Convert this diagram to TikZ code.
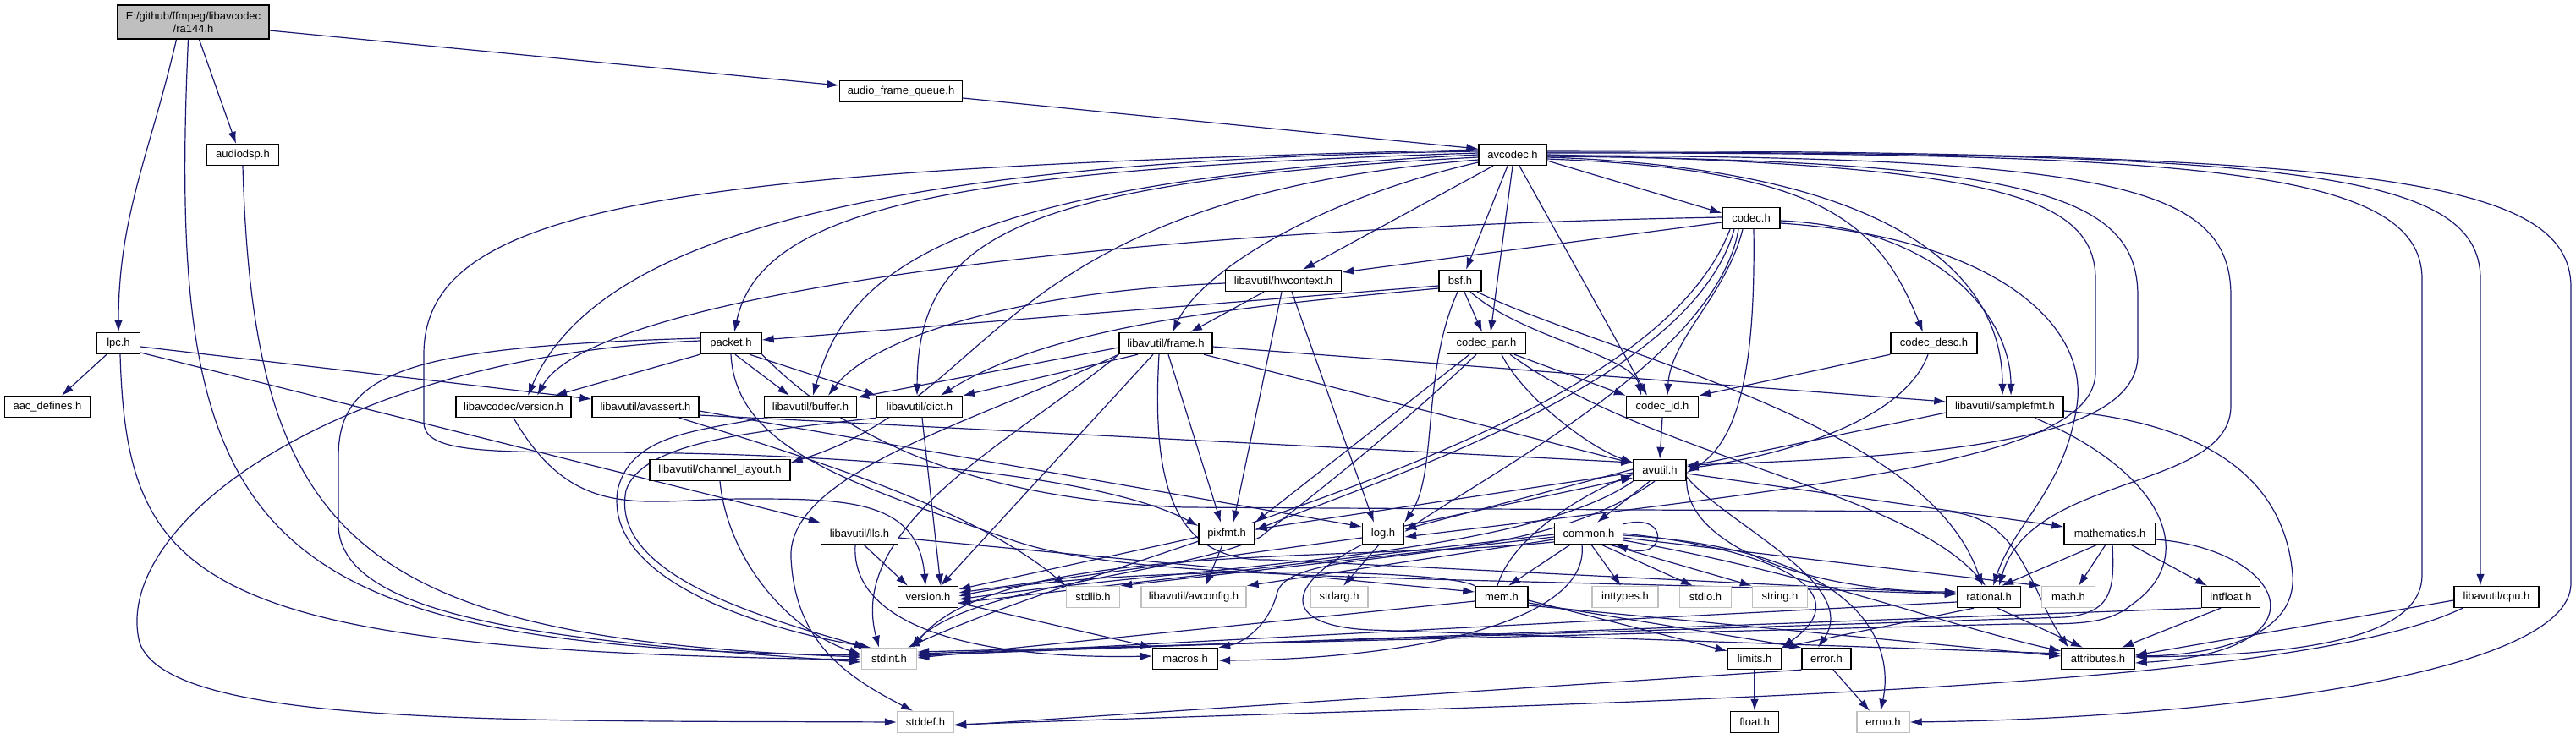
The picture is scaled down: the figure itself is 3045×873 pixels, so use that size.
\documentclass[tikz,border=0pt]{standalone}
\usepackage{fontspec}
\setmainfont{Liberation Sans}
\usetikzlibrary{arrows.meta}
\definecolor{incblue}{RGB}{25,25,112}
\definecolor{boxgray}{RGB}{191,191,191}
\newcommand\hfont{\fontsize{13}{15}\selectfont}
\pgfdeclarelayer{edges}
\pgfsetlayers{edges,main}
\tikzset{
  hdr/.style={draw=black,fill=white,line width=1.4pt,minimum height=25pt,inner sep=0pt,font=\hfont},
  syshdr/.style={hdr,draw=boxgray},
  rootfile/.style={hdr,fill=boxgray,minimum height=40pt,align=center},
  inc/.style={draw=incblue,line width=1.2pt,-{Latex[length=14pt,width=9.5pt]}}
}
\begin{document}
\begin{tikzpicture}[x=1pt,y=-1pt]
  \useasboundingbox(0,0)rectangle(3045,873);
  % files
  \node[rootfile,minimum width=179pt](ra144)at(228.5,26){E:/github/ffmpeg/libavcodec\\/ra144.h};
  \node[hdr,minimum width=145pt](afq)at(1065,108){audio\_frame\_queue.h};
  \node[hdr,minimum width=85pt](audiodsp)at(287,183){audiodsp.h};
  \node[hdr,minimum width=80pt](avcodec)at(1788,183){avcodec.h};
  \node[hdr,minimum width=68pt](codec)at(2070,258){codec.h};
  \node[hdr,minimum width=137pt](hwcontext)at(1517,332){libavutil/hwcontext.h};
  \node[hdr,minimum width=50pt](bsf)at(1726,332){bsf.h};
  \node[hdr,minimum width=51pt](lpc)at(140,406){lpc.h};
  \node[hdr,minimum width=72pt](packet)at(864,406){packet.h};
  \node[hdr,minimum width=110pt](frame)at(1378,406){libavutil/frame.h};
  \node[hdr,minimum width=93pt](codecpar)at(1757,406){codec\_par.h};
  \node[hdr,minimum width=102pt](codecdesc)at(2286,406){codec\_desc.h};
  \node[hdr,minimum width=101pt](aacdef)at(56,481){aac\_defines.h};
  \node[hdr,minimum width=136pt](lavcversion)at(607,481){libavcodec/version.h};
  \node[hdr,minimum width=126pt](avassert)at(763,481){libavutil/avassert.h};
  \node[hdr,minimum width=109pt](buffer)at(958,481){libavutil/buffer.h};
  \node[hdr,minimum width=101pt](dict)at(1087,481){libavutil/dict.h};
  \node[hdr,minimum width=85pt](codecid)at(1965,481){codec\_id.h};
  \node[hdr,minimum width=138pt](samplefmt)at(2370,481){libavutil/samplefmt.h};
  \node[hdr,minimum width=166pt](chlayout)at(851,556){libavutil/channel\_layout.h};
  \node[hdr,minimum width=62pt](avutil)at(1962,556){avutil.h};
  \node[hdr,minimum width=91pt](lls)at(1016,631){libavutil/lls.h};
  \node[hdr,minimum width=66pt](pixfmt)at(1450,631){pixfmt.h};
  \node[hdr,minimum width=49pt](log)at(1635,631){log.h};
  \node[hdr,minimum width=81pt](common)at(1878,631){common.h};
  \node[hdr,minimum width=108pt](mathematics)at(2494,631){mathematics.h};
  \node[hdr,minimum width=71pt](version)at(1097,706){version.h};
  \node[syshdr,minimum width=63pt](stdlib)at(1292,706){stdlib.h};
  \node[syshdr,minimum width=124pt](avconfig)at(1411,706){libavutil/avconfig.h};
  \node[syshdr,minimum width=68pt](stdarg)at(1583,706){stdarg.h};
  \node[hdr,minimum width=62pt](mem)at(1775,706){mem.h};
  \node[syshdr,minimum width=78pt](inttypes)at(1921,706){inttypes.h};
  \node[syshdr,minimum width=61pt](stdio)at(2016,706){stdio.h};
  \node[syshdr,minimum width=65pt](string)at(2104,706){string.h};
  \node[hdr,minimum width=75pt](rational)at(2351,706){rational.h};
  \node[syshdr,minimum width=63pt](math)at(2445,706){math.h};
  \node[hdr,minimum width=69pt](intfloat)at(2637,706){intfloat.h};
  \node[hdr,minimum width=100pt](cpu)at(2951,706){libavutil/cpu.h};
  \node[syshdr,minimum width=65pt](stdint)at(1051,779){stdint.h};
  \node[hdr,minimum width=77pt](macros)at(1401,779){macros.h};
  \node[hdr,minimum width=63pt](limits)at(2074,779){limits.h};
  \node[hdr,minimum width=58pt](error)at(2159,779){error.h};
  \node[hdr,minimum width=86pt](attributes)at(2480,779){attributes.h};
  \node[syshdr,minimum width=67pt](stddef)at(1094,854){stddef.h};
  \node[hdr,minimum width=57pt](float)at(2074,854){float.h};
  \node[syshdr,minimum width=62pt](errno)at(2226,854){errno.h};
  \begin{pgfonlayer}{edges}
  % ra144.h and its direct includes
  \draw[inc]([xshift=-20pt]ra144.south)to[out=-103,in=90](lpc.north);
  \draw[inc]([xshift=-6pt]ra144.south)..controls(196,640)and(290,765)..([yshift=4pt]stdint.west);
  \draw[inc]([xshift=7pt]ra144.south)--([xshift=-8pt]audiodsp.north);
  \draw[inc]([yshift=-10pt]ra144.east)--([yshift=7pt]afq.west);
  \draw[inc](audiodsp.south)..controls(300,640)and(420,755)..([yshift=2pt]stdint.west);
  \draw[inc]([yshift=-8pt]afq.east)--([yshift=7pt]avcodec.west);
  \draw[inc]([xshift=-14pt]lpc.south)--([xshift=17pt]aacdef.north);
  \draw[inc]([xshift=2pt]lpc.south)..controls(150,690)and(230,770)..([yshift=-1pt]stdint.west);
  \draw[inc]([yshift=-4pt]lpc.east)--([yshift=9pt]avassert.west);
  \draw[inc]([yshift=-11pt]lpc.east)--(lls.north west);
  % avcodec.h
  \draw[inc]([yshift=-7pt]avcodec.east)--([yshift=6pt]codec.west);
  \draw[inc]([xshift=-23pt]avcodec.south)--([xshift=23pt]hwcontext.north);
  \draw[inc]([xshift=-6pt]avcodec.south)--([xshift=7pt]bsf.north);
  \draw[inc](avcodec.south)--([xshift=5pt]codecpar.north);
  \draw[inc]([xshift=8pt]avcodec.south)--([xshift=-18pt]codecid.north);
  \draw[inc]([yshift=-9pt]avcodec.west)..controls(1560,235)and(1420,320)..([xshift=8pt]frame.north);
  \draw[inc]([yshift=2pt]avcodec.west)..controls(1150,200)and(900,240)..([xshift=4pt]packet.north);
  \draw[inc]([yshift=4pt]avcodec.west)..controls(1000,190)and(700,290)..([xshift=17pt]lavcversion.north);
  \draw[inc](avcodec.west)..controls(1100,215)and(1000,330)..([xshift=3pt]buffer.north);
  \draw[inc]([yshift=-3pt]avcodec.west)..controls(1200,215)and(1085,280)..([xshift=-3pt]dict.north);
  \draw[inc]([yshift=-6pt]avcodec.west)..controls(1170,235)and(1185,470)..([yshift=9pt]chlayout.east);
  \draw[inc]([yshift=6pt]avcodec.west)..controls(800,200)and(500,240)..(501,420)--(501,500)
    ..controls(502,532)and(560,535)..(700,535)..controls(1000,535)and(1300,560)..([yshift=9pt]pixfmt.west);
  \draw[inc]([yshift=-5pt]avcodec.east)..controls(2150,200)and(2220,260)..([xshift=-13pt]codecdesc.north);
  \draw[inc]([yshift=-3pt]avcodec.east)..controls(2250,200)and(2367,330)..([xshift=-3pt]samplefmt.north);
  \draw[inc](avcodec.east)..controls(2350,195)and(2477,230)..(2477,330)--(2477,440)
    ..controls(2477,540)and(2200,570)..([yshift=-4pt]log.east);
  \draw[inc]([yshift=-2pt]avcodec.east)..controls(2400,190)and(2527,230)..(2527,350)--(2527,420)
    ..controls(2527,520)and(2300,540)..([yshift=6pt]avutil.east);
  \draw[inc]([yshift=-1pt]avcodec.east)..controls(2500,185)and(2637,220)..(2637,350)--(2637,480)
    ..controls(2637,580)and(2400,560)..([xshift=12pt]rational.north);
  \draw[inc]([yshift=2pt]avcodec.east)..controls(2600,180)and(2863,200)..(2863,330)--(2863,680)
    ..controls(2863,760)and(2700,775)..([yshift=2pt]attributes.east);
  \draw[inc]([yshift=3pt]avcodec.east)..controls(2700,180)and(2932,200)..(2932,330)--([xshift=-19pt]cpu.north);
  \draw[inc]([yshift=5pt]avcodec.east)..controls(2800,180)and(3039,210)..(3039,340)--(3039,690)
    ..controls(3039,800)and(2600,850)..(errno.east);
  % codec.h
  \draw[inc]([yshift=-5pt]codec.west)--([yshift=10pt]hwcontext.east);
  \draw[inc]([yshift=1pt]codec.west)..controls(1300,270)and(700,350)..([xshift=28pt]lavcversion.north);
  \draw[inc]([xshift=-10pt]codec.south)..controls(2040,350)and(1975,400)..([xshift=6pt]codecid.north);
  \draw[inc]([yshift=-3pt]codec.east)..controls(2300,270)and(2377,380)..([xshift=7pt]samplefmt.north);
  \draw[inc]([yshift=-6pt]codec.east)..controls(2350,280)and(2470,380)..(2455,480)
    ..controls(2440,580)and(2380,620)..([xshift=5pt]rational.north);
  \draw[inc]([xshift=3pt]codec.south)..controls(2075,420)and(2060,520)..([yshift=-3pt]avutil.east);
  \draw[inc]([xshift=-15pt]codec.south)..controls(2030,420)and(1760,560)..([yshift=2pt]log.east);
  \draw[inc]([xshift=-20pt]codec.south)..controls(2000,450)and(1650,560)..([yshift=4pt]pixfmt.east);
  \draw[inc]([xshift=-25pt]codec.south)..controls(1950,520)and(1350,640)..([xshift=22pt]stdint.north);
  % hwcontext.h, bsf.h
  \draw[inc]([xshift=-23pt]hwcontext.south)--([xshift=29pt]frame.north);
  \draw[inc]([yshift=-3pt]hwcontext.west)..controls(1200,345)and(1030,400)..([xshift=21pt]buffer.north);
  \draw[inc]([xshift=10pt]hwcontext.south)--([xshift=-11pt]log.north);
  \draw[inc]([xshift=-2pt]hwcontext.south)--([xshift=8pt]pixfmt.north);
  \draw[inc]([yshift=-6pt]bsf.west)--([yshift=4pt]packet.east);
  \draw[inc]([yshift=-9pt]bsf.west)..controls(1500,360)and(1250,380)..([xshift=25pt]dict.north);
  \draw[inc]([xshift=5pt]bsf.south)--([xshift=-5pt]codecpar.north);
  \draw[inc]([xshift=12pt]bsf.south)..controls(1800,400)and(1930,420)..([xshift=-25pt]codecid.north);
  \draw[inc]([xshift=-3pt]bsf.south)..controls(1680,440)and(1700,560)..(log.north east);
  \draw[inc]([xshift=20pt]bsf.south)..controls(1900,420)and(2280,500)..([xshift=-8pt]rational.north);
  % frame.h
  \draw[inc]([yshift=-5pt]frame.west)--([yshift=11pt]buffer.east);
  \draw[inc]([xshift=-33pt]frame.south)--(dict.north east);
  \draw[inc]([yshift=-4pt]frame.east)--([yshift=6pt]samplefmt.west);
  \draw[inc]([xshift=45pt]frame.south)--([yshift=8pt]avutil.west);
  \draw[inc]([xshift=3pt]frame.south)--([xshift=-7pt]pixfmt.north);
  \draw[inc]([xshift=-15pt]frame.south)--([xshift=15pt]version.north);
  \draw[inc](frame.south west)..controls(1200,520)and(1000,620)..([xshift=-12pt]stdint.north);
  \draw[inc](frame.south west)..controls(1150,500)and(930,560)..(935,660)
    ..controls(940,760)and(1000,800)..([xshift=-15pt]stddef.north);
  \draw[inc]([xshift=-8pt]frame.south)..controls(1362,560)and(1380,665)..(1500,662)--([yshift=4pt]rational.west);
  % codec_par.h, codec_desc.h
  \draw[inc]([xshift=-20pt]codecpar.south)--(pixfmt.north east);
  \draw[inc]([xshift=-12pt]codecpar.south)..controls(1640,520)and(1520,610)..(1490,635)
    ..controls(1400,680)and(1150,690)..([xshift=25pt]stdint.north);
  \draw[inc]([xshift=18pt]codecpar.south)..controls(1800,470)and(1880,530)..([yshift=9pt]avutil.west);
  \draw[inc]([xshift=28pt]codecpar.south)..controls(1950,540)and(2250,580)..([xshift=-4pt]rational.north);
  \draw[inc]([xshift=33pt]codecpar.south)--(codecid.north west);
  \draw[inc](codecdesc.south west)--(codecid.north east);
  \draw[inc]([xshift=-7pt]codecdesc.south)..controls(2250,500)and(2100,540)..([yshift=2pt]avutil.east);
  % packet.h
  \draw[inc]([yshift=3pt]packet.west)..controls(400,420)and(130,620)..(165,760)
    ..controls(200,860)and(600,852)..(stddef.west);
  \draw[inc]([yshift=6pt]packet.west)..controls(480,410)and(400,440)..(400,540)--(400,620)
    ..controls(400,740)and(700,760)..([yshift=-4pt]stdint.west);
  \draw[inc](packet.south west)--([xshift=49pt]lavcversion.north);
  \draw[inc]([xshift=5pt]packet.south)--([xshift=-25pt]buffer.north);
  \draw[inc]([xshift=22pt]packet.south)--(dict.north west);
  \draw[inc](packet.south)..controls(870,530)and(1000,570)..(1200,640)
    ..controls(1350,690)and(1700,680)..([yshift=3pt]rational.west);
  \draw[inc](packet.south east)..controls(1000,520)and(1150,590)..(1400,600)--(2300,605)
    ..controls(2390,610)and(2400,700)..([xshift=-35pt]attributes.north);
  % libavutil headers
  \draw[inc](lavcversion.south)..controls(680,620)and(760,590)..(880,590)
    ..controls(1000,590)and(1085,590)..([xshift=-3pt]version.north);
  \draw[inc]([xshift=40pt]avassert.south)..controls(950,540)and(1150,600)..(stdlib.north west);
  \draw[inc]([yshift=-10pt]avassert.east)--([yshift=9pt]avutil.west);
  \draw[inc]([yshift=-5pt]avassert.east)--([yshift=8pt]log.west);
  \draw[inc](buffer.south west)..controls(820,510)and(745,515)..(730,580)
    ..controls(715,680)and(880,740)..([xshift=-22pt]stdint.north);
  \draw[inc](dict.south west)..controls(900,510)and(760,520)..(740,580)
    ..controls(720,680)and(900,730)..([xshift=-27pt]stdint.north);
  \draw[inc]([xshift=3pt]dict.south)--([xshift=15pt]version.north);
  \draw[inc](chlayout.south)..controls(860,660)and(930,745)..([yshift=5pt]stdint.west);
  \draw[inc]([xshift=5pt]lls.south)--([xshift=-24pt]version.north);
  \draw[inc]([yshift=-5pt]lls.east)--([yshift=6pt]mem.west);
  \draw[inc]([xshift=-5pt]lls.south)..controls(1005,740)and(1150,780)..([yshift=3pt]macros.west);
  \draw[inc]([yshift=-7pt]samplefmt.west)--([yshift=4pt]avutil.east);
  \draw[inc]([yshift=-5pt]samplefmt.east)..controls(2600,500)and(2700,560)..(2710,680)
    ..controls(2715,760)and(2600,775)..([yshift=3pt]attributes.east);
  \draw[inc]([xshift=35pt]samplefmt.south)..controls(2560,560)and(2600,660)..(2520,715)
    ..controls(2490,740)and(2450,738)..(2380,738)--([yshift=8pt]stdint.east);
  \draw[inc](codecid.south)--(avutil.north);
  % avutil.h
  \draw[inc]([xshift=-12pt]avutil.south)--([xshift=10pt]common.north);
  \draw[inc]([yshift=1pt]avutil.west)--([yshift=5pt]log.east);
  \draw[inc]([yshift=-3pt]avutil.west)--([yshift=5pt]pixfmt.east);
  \draw[inc](avutil.south west)..controls(1800,660)and(1400,670)..([yshift=-3pt]version.east);
  \draw[inc]([yshift=-4pt]avutil.east)--([yshift=8pt]mathematics.west);
  \draw[inc](avutil.south east)..controls(1995,650)and(2150,700)..([yshift=6pt]rational.west);
  \draw[inc]([yshift=-8pt]avutil.east)..controls(2040,620)and(2200,690)..([xshift=-10pt]error.north);
  \draw[inc]([xshift=-6pt]avutil.south)..controls(1800,680)and(1530,640)..(1510,700)
    ..controls(1500,740)and(1470,760)..(macros.north east);
  % log.h, pixfmt.h
  \draw[inc]([xshift=-5pt]log.south)--([xshift=5pt]stdarg.north);
  \draw[inc]([yshift=-5pt]log.west)--([yshift=5pt]version.east);
  \draw[inc]([yshift=9pt]log.east)--([yshift=-9pt]avutil.west);
  \draw[inc](log.south west)..controls(1520,690)and(1510,740)..(1620,745)--([yshift=6pt]attributes.west);
  \draw[inc]([xshift=-5pt]pixfmt.south)--([xshift=14pt]avconfig.north);
  \draw[inc]([yshift=-4pt]pixfmt.west)--([yshift=9pt]version.east);
  % common.h
  \draw[inc]([yshift=-2pt]common.north east)..controls(1975,605)and(1970,665)..([xshift=32pt]common.south);
  \draw[inc]([xshift=-22pt]common.south)--([xshift=8pt]mem.north);
  \draw[inc]([xshift=3pt]common.south)--([xshift=-5pt]inttypes.north);
  \draw[inc]([xshift=15pt]common.south)--([xshift=-15pt]stdio.north);
  \draw[inc]([xshift=25pt]common.south)--(string.north west);
  \draw[inc]([yshift=-1pt]common.west)--([yshift=-7pt]version.east);
  \draw[inc]([yshift=-4pt]common.west)--(stdlib.north east);
  \draw[inc]([yshift=-7pt]common.west)--(avconfig.north east);
  \draw[inc]([yshift=-10pt]common.west)..controls(1600,665)and(1180,640)..([xshift=28pt]stdint.north);
  \draw[inc]([xshift=-8pt]common.south)..controls(1880,740)and(1650,780)..([yshift=-2pt]macros.east);
  \draw[inc]([yshift=-5pt]common.east)--(math.north west);
  \draw[inc]([yshift=-8pt]common.east)..controls(2150,680)and(2300,740)..([yshift=9pt]attributes.west);
  \draw[inc](common.east)..controls(2100,650)and(2200,700)..(limits.north east);
  \draw[inc]([yshift=-2pt]common.east)..controls(2200,650)and(2240,760)..([xshift=-3pt]errno.north);
  % mem.h
  \draw[inc]([xshift=-5pt]mem.north)..controls(1785,640)and(1860,590)..([yshift=-5pt]avutil.west);
  \draw[inc]([yshift=-5pt]mem.west)--([yshift=1pt]stdint.east);
  \draw[inc]([yshift=-4pt]mem.east)--([yshift=9pt]limits.west);
  \draw[inc]([yshift=-7pt]mem.east)--(error.north west);
  \draw[inc]([yshift=-10pt]mem.east)--([yshift=3pt]attributes.west);
  \draw[inc](mem.north west)..controls(1700,670)and(1300,670)..([yshift=1pt]version.east);
  % mathematics.h, rational.h, intfloat.h, cpu.h
  \draw[inc]([xshift=-15pt]mathematics.south)--([xshift=15pt]rational.north);
  \draw[inc]([xshift=-5pt]mathematics.south)--([xshift=12pt]math.north);
  \draw[inc]([xshift=25pt]mathematics.south)--([xshift=-28pt]intfloat.north);
  \draw[inc]([yshift=-7pt]mathematics.east)..controls(2700,650)and(2760,770)..([yshift=-5pt]attributes.east);
  \draw[inc]([xshift=3pt]mathematics.south)..controls(2500,700)and(2495,725)..(2440,730)--([yshift=6pt]stdint.east);
  \draw[inc]([xshift=10pt]rational.south)--([xshift=-18pt]attributes.north);
  \draw[inc]([xshift=-18pt]rational.south)--(limits.north east);
  \draw[inc]([yshift=-6pt]rational.west)--([yshift=3pt]stdint.east);
  \draw[inc]([xshift=-12pt]intfloat.south)--([xshift=28pt]attributes.north);
  \draw[inc](intfloat.south west)--([yshift=4pt]stdint.east);
  \draw[inc]([yshift=-4pt]cpu.west)--([yshift=4pt]attributes.east);
  \draw[inc]([xshift=-40pt]cpu.south)..controls(2700,820)and(1900,830)..([yshift=-3pt]stddef.east);
  % error.h, limits.h, version.h
  \draw[inc]([xshift=8pt]error.south)--([xshift=-16pt]errno.north);
  \draw[inc](error.south west)--([yshift=-4pt]stddef.east);
  \draw[inc](limits.south)--(float.north);
  \draw[inc]([yshift=-7pt]version.east)--(macros.north west);
  \end{pgfonlayer}
\end{tikzpicture}
\end{document}
